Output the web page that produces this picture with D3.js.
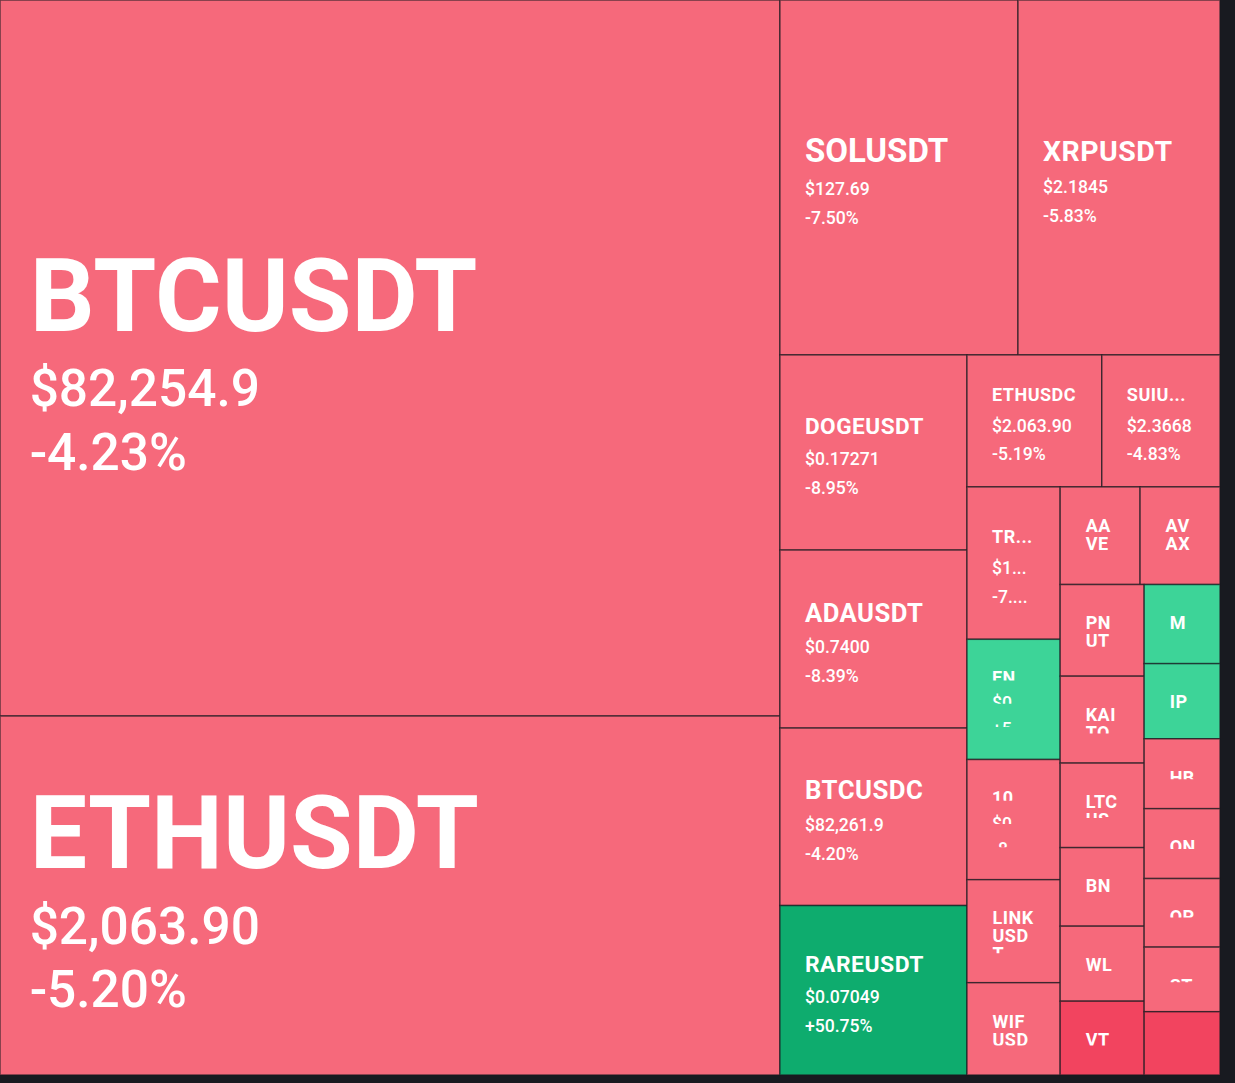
<!DOCTYPE html>
<html>
<head>
<meta charset="utf-8">
<script src="https://cdn.jsdelivr.net/npm/d3@7"></script>
<style>
  html, body { margin: 0; padding: 0; background: #181a20; }
  svg { display: block; }
</style>
</head>
<body>
<svg id="chart" width="1235" height="1083"></svg>
<script>
// ---- data ----
const symbols = [
  "BTCUSDT", "ETHUSDT", "SOLUSDT", "XRPUSDT", "DOGEUSDT", "ADAUSDT", "BTCUSDC", "RAREUSDT",
  "ETHUSDC", "SUIUSDT", "TRUMPUSDT", "ENAUSDT", "1000SATSUSDT", "LINKUSDT", "WIFUSDT",
  "AAVEUSDT", "AVAXUSDT", "PNUTUSDT", "KAITOUSDT", "LTCUSDT", "BNBUSDT", "WLDUSDT", "VTNUSDT",
  "MUBARAKUSDT", "IPUSDT", "HBARUSDT", "ONDOUSDT", "OPUSDT", "STXUSDT", "TUTUSDT"
];
// relative traded volume (tile size)
const volumes = [
  5585, 2800, 845, 717, 365, 333, 332, 317,
  178, 156, 142, 112, 112, 96, 86,
  78, 78, 77, 73, 71, 66, 63, 62,
  60, 57, 53, 53, 52, 49, 48
];
const priceLabels = [
  "$82,254.9", "$2,063.90", "$127.69", "$2.1845", "$0.17271", "$0.7400", "$82,261.9", "$0.07049",
  "$2.063.90", "$2.3668", "$11.68", "$0.3520", "$0.0001312", "$13.48", "$0.4512",
  "$172.35", "$18.21", "$0.1376", "$1.3462", "$89.12", "$556.21", "$0.8430", "$0.0921",
  "$0.0614", "$5.612", "$0.2071", "$1.0234", "$0.8123", "$0.7012", "$0.0312"
];
const changes = [
  -4.23, -5.20, -7.50, -5.83, -8.95, -8.39, -4.20, 50.75,
  -5.19, -4.83, -7.31, 5.36, -8.47, -7.12, -8.84,
  -6.04, -7.66, -8.31, -6.92, -6.55, -3.42, -7.89, -14.20,
  8.12, 4.37, -6.48, -7.05, -8.16, -6.63, -12.40
];

// color scale on 24h change
const colorScale = d3.scaleThreshold()
  .domain([-10, 0, 10])
  .range(["#f2445f", "#f6697b", "#3dd498", "#0eac6e"]);

// row-based tiling (strip along the left or along the top, then continue in the rest)
const ROWS = [[2, "v"], [2, "h"], [4, "v"], [2, "h"], [5, "v"], [2, "h"], [6, "v"], [7, "v"]];
function rowTile(parent, x0, y0, x1, y1) {
  const nodes = parent.children;
  let i = 0, remaining = parent.value;
  for (const [n, dir] of ROWS) {
    if (i >= nodes.length) break;
    const row = nodes.slice(i, i + n); i += n;
    const s = d3.sum(row, d => d.value);
    const frac = remaining ? s / remaining : 1;
    const strip = { children: row, value: s };
    if (dir === "v") {
      const xm = x0 + (x1 - x0) * frac;
      d3.treemapSlice(strip, x0, y0, xm, y1);
      x0 = xm;
    } else {
      const ym = y0 + (y1 - y0) * frac;
      d3.treemapDice(strip, x0, y0, x1, ym);
      y0 = ym;
    }
    remaining -= s;
  }
}

const W = 1220, H = 1075;
const data = symbols.map((s, i) => ({ symbol: s, volume: volumes[i], price: priceLabels[i], change: changes[i] }));
const root = d3.hierarchy({ children: data }).sum(d => d.volume || 0);
d3.treemap().tile(rowTile).size([W, H])(root);

const svg = d3.select("#chart");
const defs = svg.append("defs");
const FONT = "Roboto, 'Noto Sans', sans-serif";

// measuring helpers
const meas = svg.append("text").attr("visibility", "hidden").attr("font-family", FONT);
function measure(str, fs, weight, ls) {
  meas.attr("font-size", fs).attr("font-weight", weight).attr("letter-spacing", ls || 0).text(str);
  return meas.node().getComputedTextLength();
}
function fitLine(str, fs, weight, ls, avail) {
  if (measure(str, fs, weight, ls) <= avail) return str;
  for (let k = str.length - 1; k > 0; k--) {
    const s = str.slice(0, k) + "...";
    if (measure(s, fs, weight, ls) <= avail) return s;
  }
  return "...";
}
function wrapChars(str, fs, weight, ls, avail) {
  const lines = []; let cur = "";
  for (const ch of str) {
    if (cur && measure(cur + ch, fs, weight, ls) > avail) { lines.push(cur); cur = ch; }
    else cur += ch;
  }
  if (cur) lines.push(cur);
  return lines;
}

const leaves = root.leaves();
const cells = svg.selectAll("g.cell").data(leaves).join("g").attr("class", "cell");

cells.append("rect")
  .attr("x", d => d.x0)
  .attr("y", d => d.y0)
  .attr("width", d => d.x1 - d.x0)
  .attr("height", d => d.y1 - d.y0)
  .attr("fill", d => colorScale(d.data.change))
  .attr("stroke", "rgba(24,26,32,0.65)")
  .attr("stroke-width", 1.5);

const NAME_LS = 0.5;
cells.each(function (d, idx) {
  const sel = d3.select(this);
  const w = d.x1 - d.x0, h = d.y1 - d.y0;
  const pad = Math.max(25, w * 0.038);
  const tx = d.x0 + pad;
  const threeLine = h >= 110;
  const clipBottom = threeLine ? d.y1 - 24 : d.y1 - 29.5;
  const clipId = "cc" + idx;
  defs.append("clipPath").attr("id", clipId).append("rect")
    .attr("x", d.x0).attr("y", d.y0 + 26)
    .attr("width", w).attr("height", Math.max(0, clipBottom - d.y0 - 26));
  const g = sel.append("g").attr("clip-path", `url(#${clipId})`);
  const chg = (d.data.change > 0 ? "+" : "") + d.data.change.toFixed(2) + "%";

  if (threeLine) {
    const fitFs = 100 * 0.84 * (w - 2 * pad) / measure(d.data.symbol, 100, 700, 0);
    const nameFs = Math.max(18, Math.min(2.8 + 0.127 * w, fitFs));
    const subFs = Math.max(17.6, nameFs * 0.505);
    const capN = 0.711 * nameFs, capS = 0.711 * subFs;
    let gap1 = Math.max(27 + 0.18 * nameFs, 0.74 * nameFs), gap2 = 11 + 1.02 * subFs;
    const squeeze = h < 126;
    if (squeeze) { gap1 = gap2 = 0.21 * h; }
    const blockH = capN + gap1 + gap2;
    const cy = (d.y0 + d.y1) / 2 + 3 + 0.03 * nameFs;
    const b1 = cy - blockH / 2 + capN, b2 = b1 + gap1, b3 = b2 + gap2;
    const lines = [
      { text: d.data.symbol, fs: nameFs, wt: 700, b: b1, cap: capN, ls: nameFs < 30 ? NAME_LS : 0 },
      { text: d.data.price, fs: subFs, wt: 500, b: b2, cap: capS, ls: 0 },
      { text: chg, fs: subFs, wt: 500, b: b3, cap: capS, ls: 0 }
    ];
    lines.forEach((ln, i) => {
      let parent = g;
      if (squeeze) {
        const vis = Math.max(0, ln.cap * (h - 95) / 30 - 1.5 - 2 * i);
        const lid = clipId + "_" + i;
        defs.append("clipPath").attr("id", lid).append("rect")
          .attr("x", d.x0).attr("y", ln.b - ln.cap - 0.4 * ln.fs)
          .attr("width", w).attr("height", 0.4 * ln.fs + vis);
        parent = g.append("g").attr("clip-path", `url(#${lid})`);
      }
      const availW = w - 2 * pad + 0.5;
      parent.append("text")
        .attr("x", tx).attr("y", ln.b)
        .attr("font-family", FONT).attr("font-size", ln.fs)
        .attr("font-weight", ln.wt).attr("letter-spacing", ln.ls)
        .attr("fill", "#ffffff")
        .text(fitLine(ln.text, ln.fs, ln.wt, ln.ls, availW));
    });
  } else {
    const fs = 18;
    const wrapped = wrapChars(d.data.symbol, fs, 700, NAME_LS, w - 49.5);
    const visible = wrapped
      .map((ln, i) => ({ ln, top: d.y0 + 32 + i * 18 }))
      .filter(o => o.top + 2 < clipBottom);
    if (!visible.length) return;
    const t = g.append("text")
      .attr("font-family", FONT).attr("font-size", fs).attr("font-weight", 700)
      .attr("letter-spacing", NAME_LS).attr("fill", "#ffffff");
    visible.forEach(o => {
      t.append("tspan").attr("x", d.x0 + 25.5).attr("y", o.top + 0.711 * fs).text(o.ln);
    });
  }
});
meas.remove();
</script>
</body>
</html>
